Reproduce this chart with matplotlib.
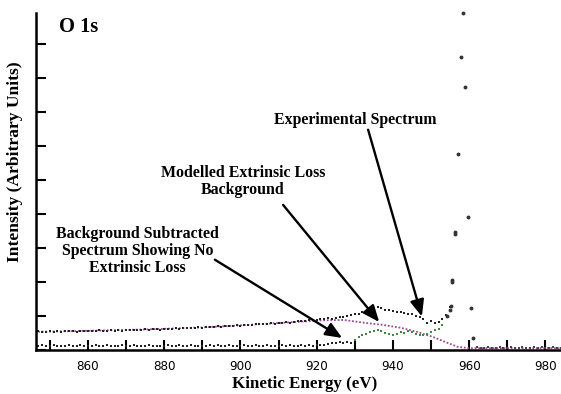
import numpy as np
import matplotlib.pyplot as plt
from matplotlib.ticker import MultipleLocator, FuncFormatter

# O 1s kinetic energy spectrum, 1 eV steps from 846 eV
exp_start = 846
exp_int = [0.53, 0.54, 0.52, 0.53, 0.55, 0.53, 0.54, 0.52, 0.55, 0.54,
           0.55, 0.53, 0.56, 0.55, 0.54, 0.56, 0.55, 0.57, 0.55, 0.56,
           0.57, 0.56, 0.58, 0.56, 0.57, 0.59, 0.58, 0.57, 0.59, 0.60,
           0.58, 0.60, 0.61, 0.59, 0.61, 0.62, 0.60, 0.63, 0.62, 0.64,
           0.63, 0.65, 0.64, 0.66, 0.65, 0.67, 0.68, 0.66, 0.69, 0.68,
           0.70, 0.69, 0.71, 0.72, 0.71, 0.73, 0.74, 0.73, 0.75, 0.76,
           0.75, 0.77, 0.78, 0.77, 0.79, 0.80, 0.81, 0.80, 0.83, 0.84,
           0.85, 0.84, 0.87, 0.88, 0.87, 0.90, 0.91, 0.93, 0.92, 0.95,
           0.97, 0.96, 1.00, 1.02, 1.05, 1.04, 1.10, 1.12, 1.15, 1.20,
           1.26, 1.22, 1.18, 1.16, 1.14, 1.12, 1.10, 1.08, 1.06, 1.05,
           1.00, 0.96, 0.92, 0.80, 0.84, 0.78, 0.82, 0.90, 1.02, 1.25]

# rising edge of the main peak (goes off scale)
edge_e = [954.2, 955.0, 955.2, 955.5, 955.6, 956.3, 956.4, 957.1, 957.8, 958.3,
          959.0, 959.7, 960.5, 961.0]
edge_int = [1.00, 1.18, 1.29, 2.00, 2.06, 3.41, 3.47, 5.76, 8.62, 9.91,
            7.74, 3.91, 1.24, 0.35]

# high kinetic energy tail
tail_start = 962
tail_int = [0.07, 0.05, 0.06, 0.08, 0.05, 0.06, 0.07, 0.05, 0.06, 0.08,
            0.06, 0.05, 0.07, 0.06, 0.05, 0.08, 0.06, 0.07, 0.05, 0.06,
            0.07, 0.05, 0.06]

# modelled extrinsic loss background
bg_e = [846, 860, 875, 890, 900, 910, 916, 922, 927, 933, 937, 942, 946,
        950.5, 954, 957, 960, 985]
bg_int = [0.53, 0.56, 0.60, 0.66, 0.72, 0.79, 0.83, 0.87, 0.88, 0.79, 0.74,
          0.65, 0.54, 0.38, 0.22, 0.09, 0.05, 0.05]

# background subtracted spectrum, 1 eV steps from 846 eV
diff_start = 846
diff_int = [0.12, 0.10, 0.13, 0.11, 0.12, 0.14, 0.11, 0.12, 0.10, 0.13,
            0.12, 0.11, 0.13, 0.12, 0.10, 0.12, 0.14, 0.11, 0.12, 0.13,
            0.11, 0.12, 0.10, 0.13, 0.12, 0.11, 0.14, 0.12, 0.11, 0.12,
            0.13, 0.11, 0.12, 0.10, 0.12, 0.13, 0.11, 0.12, 0.14, 0.12,
            0.11, 0.13, 0.12, 0.10, 0.12, 0.11, 0.13, 0.12, 0.14, 0.11,
            0.12, 0.13, 0.11, 0.12, 0.10, 0.13, 0.12, 0.11, 0.14, 0.12,
            0.11, 0.13, 0.12, 0.10, 0.12, 0.14, 0.11, 0.13, 0.12, 0.11,
            0.13, 0.12, 0.14, 0.12, 0.13, 0.15, 0.14, 0.18, 0.20, 0.19,
            0.22, 0.21, 0.23, 0.20, 0.30, 0.38, 0.44, 0.48, 0.52, 0.55,
            0.57, 0.54, 0.50, 0.46, 0.44, 0.48, 0.52, 0.50, 0.54, 0.52,
            0.48, 0.45, 0.44, 0.47, 0.52, 0.58, 0.62, 0.74]
green_from = 930

exp_e = exp_start + np.arange(len(exp_int))
tail_e = tail_start + np.arange(len(tail_int))
diff_e = diff_start + np.arange(len(diff_int))
diff_int = np.array(diff_int)

serif = ['Liberation Serif', 'DejaVu Serif']

fig = plt.figure(figsize=(5.61, 3.94), dpi=100)
ax = fig.add_axes([0.064, 0.112, 0.936, 0.855])

dot = dict(ls='none', marker='s', ms=1.7, mew=0)
ax.plot(bg_e, bg_int, color='#9a4a9a', lw=1.3, ls=(0, (1, 1)))
ax.plot(exp_e, exp_int, color='#222222', **dot)
ax.plot(edge_e, edge_int, color='#333333', ls='none', marker='o', ms=2.8, mew=0,
        clip_on=False)
ax.plot(tail_e, tail_int, color='#5a3a5a', **dot)
m = diff_e < green_from
ax.plot(diff_e[m], diff_int[m], color='#222222', **dot)
ax.plot(diff_e[~m], diff_int[~m], color='#3f8a3f', **dot)

ax.set_xlim(846.35, 984.1)
ax.set_ylim(0, 9.9)

for s in ['top', 'right']:
    ax.spines[s].set_visible(False)
for s in ['left', 'bottom']:
    ax.spines[s].set_linewidth(1.8)

ax.xaxis.set_major_locator(MultipleLocator(10))
ax.xaxis.set_major_formatter(FuncFormatter(lambda v, p: '%d' % v if int(round(v)) % 20 == 0 else ''))
ax.yaxis.set_major_locator(MultipleLocator(1))
ax.set_yticklabels([])
ax.tick_params(axis='both', direction='in', length=7, width=1.5)
ax.tick_params(axis='x', pad=7, labelsize=9.5)
for lab in ax.get_xticklabels():
    lab.set_family(['DejaVu Sans'])
    lab.set_stretch('condensed')

ax.set_xlabel('Kinetic Energy (eV)', family=serif, weight='bold', fontsize=12.2, va='center')
ax.xaxis.set_label_coords(0.512, -0.102)
ax.set_ylabel('Intensity (Arbitrary Units)', family=serif, weight='bold', fontsize=12.6)
ax.yaxis.set_label_coords(-0.025, 0.56)

ax.text(852.3, 9.5, 'O 1s', family=serif, weight='bold', fontsize=14.8, va='center')

txt = dict(family=serif, weight='bold', fontsize=11.4, ha='center', va='center')
ax.text(930.1, 6.76, 'Experimental Spectrum', **txt)
ax.text(900.7, 4.94, 'Modelled Extrinsic Loss\nBackground', linespacing=1.1, **txt)
ax.text(873.0, 2.91, 'Background Subtracted\nSpectrum Showing No\nExtrinsic Loss', linespacing=1.1, **txt)

arr = dict(arrowstyle='-|>,head_length=1.0,head_width=0.42', color='black', lw=1.7,
           shrinkA=0, shrinkB=0)
ax.annotate('', xy=(947.6, 0.98), xytext=(933.5, 6.47), arrowprops=arr)
ax.annotate('', xy=(936.4, 0.82), xytext=(911.2, 4.26), arrowprops=arr)
ax.annotate('', xy=(926.7, 0.35), xytext=(893.3, 2.65), arrowprops=arr)

fig.savefig('out.png', dpi=100)
